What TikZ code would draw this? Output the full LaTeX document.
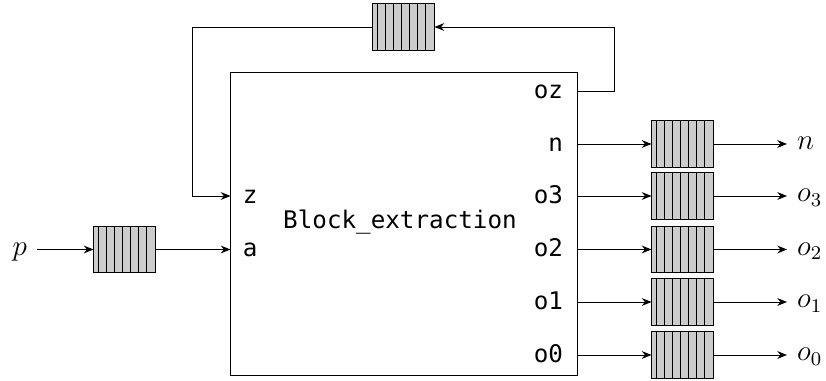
\documentclass[tikz,border=0pt]{standalone}
\usepackage{fontspec}
\setmonofont{DejaVu Sans Mono}
\usetikzlibrary{arrows.meta}

\tikzset{
  fifo/.style={draw, fill=gray!40, minimum width=0.885cm, minimum height=0.667cm, inner sep=0pt,
    path picture={\foreach \k in {1,...,7}
      \draw ([xshift=-\k*0.1168cm]path picture bounding box.north east) -- ([xshift=-\k*0.1168cm]path picture bounding box.south east);}},
  port/.style={font=\ttfamily, inner sep=1pt, text height=1.6ex, text depth=0.2ex},
  sig/.style={font=\large, inner sep=4pt},
  >={Stealth[length=4pt,width=3.2pt]}
}

\begin{document}
\begin{tikzpicture}[x=0.0145cm, y=-0.0145cm]
            \useasboundingbox (0,0) rectangle (826,381);
            \node[draw, minimum width=5.017cm, minimum height=4.379cm, inner sep=0pt] (blk) at (404,224) {};
            \node[font=\ttfamily] (title) at (400,222) {Block\_extraction};
            
            \node[port, anchor=west] (z) at (240,196) {z};
            \node[port, anchor=west] (a) at (240,249.5) {a};
            \node[port, anchor=east] (oz) at (566,91) {oz};
            
            \node[fifo] (qp) at (124.5,249.5) {};
            \node[fifo] (qz) at (403.5,27) {};
            \node[sig, anchor=base east] (p) at (37,256) {$p$};
            
            \draw[->] (qp.west -| p.east) -- (qp.west);
            \draw[->] (qp.east) -- (qp.east -| blk.west);
            \draw[->] (oz.east -| blk.east) -- ++(37,0) |- (qz.east);
            \draw[->] (qz.west) -- ++(-180,0) |- (z.west -| blk.west);
            
            \foreach \name/\lab/\y in {n/n/144, o3/o_3/196, o2/o_2/249.5, o1/o_1/302, o0/o_0/355} {
              \node[fifo] (q\name) at (682.5,\y) {};
              \node[port, anchor=east] (\name) at (566,\y) {\name};
              \node[sig, anchor=base west] (out\name) at (787,\y+6) {$\lab$};
              \draw[->] (q\name.west -| blk.east) -- (q\name.west);
              \draw[->] (q\name.east) -- (q\name.east -| out\name.west);
            }
\end{tikzpicture}
\end{document}
